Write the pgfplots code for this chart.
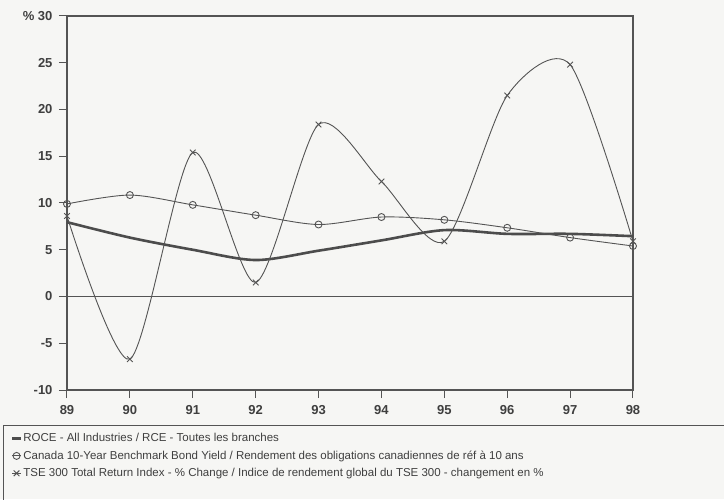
\documentclass[border=0pt]{standalone}
\usepackage{fontspec}
\setmainfont{Liberation Sans}
\usepackage{pgfplots}
\pgfplotsset{compat=1.18}
\definecolor{ink}{rgb}{0.33,0.33,0.33}
\definecolor{paper}{rgb}{0.965,0.965,0.955}

\begin{document}
\begin{tikzpicture}
\fill[paper] (0pt,0pt) rectangle (724pt,499pt);
\useasboundingbox (0pt,0pt) rectangle (724pt,499pt);
\clip (0pt,0pt) rectangle (724pt,499pt);
\begin{axis}[
  at={(67pt,109pt)}, anchor=south west,
  scale only axis, width=566pt, height=374pt,
  xmin=89, xmax=98, ymin=-10, ymax=30,
  xtick={89,90,91,92,93,94,95,96,97,98},
  xticklabels={89,90,91,92,93,94,95,96,97,98},
  ytick={-10,-5,0,5,10,15,20,25,30},
  yticklabels={-10,-5,0,5,10,15,20,25,{\%\ 30}},
  axis line style={ink, line width=1.3pt},
  tick style={ink, line width=1pt},
  major tick length=8pt,
  tick align=outside, tick pos=left,
  ticklabel style={font=\fontsize{13}{13}\selectfont\bfseries, text=ink!75!black},
  yticklabel style={xshift=-3pt},
  xticklabel style={yshift=-4pt},
  /pgf/number format/assume math mode=true,
  clip=false,
  legend cell align=left,
  legend style={at={(axis description cs:-0.105,-0.108)}, anchor=north west,
    draw=none, fill=none, font=\fontsize{11.5}{13}\selectfont,
    text=ink!75!black, row sep=5.5pt, nodes={inner sep=1pt}},
  legend image code/.code={\draw[mark repeat=2,mark phase=2,#1]
    plot coordinates {(0pt,0pt) (4.5pt,0pt) (9pt,0pt)};},
]
\addplot[ink, line width=1pt, forget plot] coordinates {(89,0) (98,0)};
\addplot[ink!90!black, line width=2.6pt, smooth] coordinates {
  (89,7.95) (90,6.3) (91,5.0) (92,3.9) (93,4.9)
  (94,6.0) (95,7.1) (96,6.7) (97,6.7) (98,6.45)};
\addlegendentry{ROCE - All Industries / RCE - Toutes les branches}
\addplot[ink, line width=0.9pt, smooth, mark=o, mark size=3.5pt,
  mark options={solid, line width=0.9pt}] coordinates {
  (89,9.9) (90,10.85) (91,9.8) (92,8.7) (93,7.7)
  (94,8.5) (95,8.2) (96,7.35) (97,6.3) (98,5.4)};
\addlegendentry{Canada 10-Year Benchmark Bond Yield / Rendement des obligations canadiennes de réf à 10 ans}
\addplot[ink, line width=0.9pt, smooth, tension=0.45, mark=x, mark size=4pt,
  mark options={solid, line width=0.9pt}] coordinates {
  (89,8.6) (90,-6.7) (91,15.4) (92,1.5) (93,18.4)
  (94,12.3) (95,5.9) (96,21.5) (97,24.8) (98,5.9)};
\addlegendentry{TSE 300 Total Return Index - \% Change / Indice de rendement global du TSE 300 - changement en \%}
\end{axis}
\draw[ink, line width=1pt] (760pt,74pt) -- (3pt,74pt) -- (3pt,-20pt);
\end{tikzpicture}
\end{document}
